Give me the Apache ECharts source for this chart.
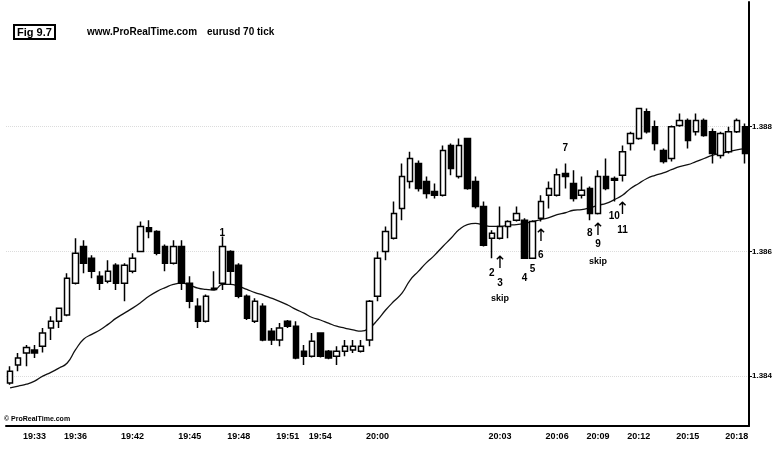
<!DOCTYPE html>
<html>
<head>
<meta charset="utf-8">
<script src="https://cdn.jsdelivr.net/npm/echarts@6/dist/echarts.min.js"></script>
<style>
  html, body { margin: 0; padding: 0; background: #fff; }
  #chart { width: 781px; height: 459px; }
</style>
</head>
<body>
<div id="chart"></div>
<script>
// eurusd 70 tick candles
var open = [1.38389, 1.38418, 1.38437, 1.38442, 1.38448, 1.38477, 1.38488, 1.38498, 1.38549, 1.38608,
    1.38589, 1.38560, 1.38552, 1.38578, 1.38549, 1.38568, 1.38600, 1.38638, 1.38632, 1.38608,
    1.38581, 1.38608, 1.38549, 1.38512, 1.38488, 1.38539, 1.38549, 1.38600, 1.38578, 1.38528,
    1.38488, 1.38512, 1.38472, 1.38458, 1.38488, 1.38480, 1.38440, 1.38432, 1.38469, 1.38440,
    1.38432, 1.38440, 1.38442, 1.38440, 1.38458, 1.38528, 1.38600, 1.38621, 1.38669, 1.38712,
    1.38741, 1.38712, 1.38696, 1.38690, 1.38770, 1.38720, 1.38781, 1.38712, 1.38672, 1.38621,
    1.38621, 1.38640, 1.38650, 1.38650, 1.38589, 1.38653, 1.38690, 1.38690, 1.38725, 1.38709,
    1.38690, 1.38701, 1.38661, 1.38720, 1.38717, 1.38722, 1.38773, 1.38781, 1.38824, 1.38800,
    1.38762, 1.38749, 1.38802, 1.38810, 1.38792, 1.38810, 1.38792, 1.38754, 1.38760, 1.38792,
    1.38800];
var close = [1.38408, 1.38429, 1.38446, 1.38437, 1.38469, 1.38488, 1.38509, 1.38557, 1.38597, 1.38581,
    1.38568, 1.38549, 1.38568, 1.38549, 1.38578, 1.38589, 1.38640, 1.38632, 1.38597, 1.38581,
    1.38608, 1.38549, 1.38520, 1.38488, 1.38528, 1.38541, 1.38608, 1.38568, 1.38528, 1.38493,
    1.38520, 1.38458, 1.38458, 1.38477, 1.38480, 1.38429, 1.38432, 1.38456, 1.38432, 1.38429,
    1.38440, 1.38448, 1.38448, 1.38448, 1.38520, 1.38589, 1.38632, 1.38661, 1.38720, 1.38749,
    1.38701, 1.38693, 1.38690, 1.38762, 1.38733, 1.38770, 1.38701, 1.38672, 1.38610, 1.38629,
    1.38640, 1.38648, 1.38661, 1.38589, 1.38648, 1.38680, 1.38701, 1.38723, 1.38720, 1.38685,
    1.38698, 1.38661, 1.38720, 1.38701, 1.38714, 1.38760, 1.38789, 1.38829, 1.38792, 1.38773,
    1.38744, 1.38800, 1.38810, 1.38778, 1.38810, 1.38786, 1.38757, 1.38789, 1.38792, 1.38810,
    1.38757];
var low = [1.38386, 1.38408, 1.38416, 1.38429, 1.38438, 1.38458, 1.38477, 1.38496, 1.38547, 1.38565,
    1.38557, 1.38538, 1.38549, 1.38538, 1.38520, 1.38565, 1.38600, 1.38621, 1.38594, 1.38568,
    1.38579, 1.38538, 1.38509, 1.38477, 1.38486, 1.38538, 1.38538, 1.38546, 1.38525, 1.38490,
    1.38485, 1.38456, 1.38450, 1.38448, 1.38477, 1.38427, 1.38418, 1.38430, 1.38430, 1.38427,
    1.38418, 1.38432, 1.38437, 1.38438, 1.38448, 1.38520, 1.38586, 1.38619, 1.38650, 1.38701,
    1.38696, 1.38685, 1.38685, 1.38688, 1.38722, 1.38717, 1.38699, 1.38669, 1.38608, 1.38589,
    1.38619, 1.38621, 1.38648, 1.38589, 1.38589, 1.38648, 1.38669, 1.38688, 1.38701, 1.38680,
    1.38685, 1.38650, 1.38659, 1.38698, 1.38680, 1.38712, 1.38762, 1.38779, 1.38789, 1.38762,
    1.38741, 1.38744, 1.38800, 1.38765, 1.38786, 1.38784, 1.38741, 1.38749, 1.38757, 1.38790,
    1.38741];
var high = [1.38416, 1.38437, 1.38450, 1.38450, 1.38477, 1.38496, 1.38510, 1.38565, 1.38621, 1.38618,
    1.38594, 1.38568, 1.38586, 1.38581, 1.38581, 1.38597, 1.38648, 1.38650, 1.38634, 1.38611,
    1.38618, 1.38618, 1.38560, 1.38525, 1.38531, 1.38568, 1.38624, 1.38602, 1.38581, 1.38531,
    1.38525, 1.38517, 1.38477, 1.38485, 1.38490, 1.38488, 1.38450, 1.38469, 1.38470, 1.38442,
    1.38448, 1.38458, 1.38458, 1.38458, 1.38522, 1.38600, 1.38640, 1.38680, 1.38741, 1.38760,
    1.38746, 1.38720, 1.38709, 1.38770, 1.38773, 1.38781, 1.38782, 1.38720, 1.38680, 1.38634,
    1.38672, 1.38650, 1.38672, 1.38653, 1.38650, 1.38690, 1.38712, 1.38733, 1.38741, 1.38730,
    1.38720, 1.38704, 1.38730, 1.38749, 1.38720, 1.38770, 1.38792, 1.38830, 1.38829, 1.38810,
    1.38765, 1.38802, 1.38821, 1.38813, 1.38821, 1.38813, 1.38797, 1.38792, 1.38800, 1.38813,
    1.38805];

// moving average line
var avg = [1.38381, 1.38384, 1.38387, 1.38392, 1.38400, 1.38406, 1.38413, 1.38421, 1.38442, 1.38459,
    1.38467, 1.38474, 1.38483, 1.38493, 1.38501, 1.38509, 1.38518, 1.38528, 1.38536, 1.38542,
    1.38547, 1.38549, 1.38546, 1.38541, 1.38539, 1.38538, 1.38547, 1.38547, 1.38544, 1.38539,
    1.38534, 1.38530, 1.38525, 1.38520, 1.38514, 1.38507, 1.38501, 1.38494, 1.38490, 1.38485,
    1.38480, 1.38477, 1.38474, 1.38472, 1.38477, 1.38490, 1.38506, 1.38520, 1.38533, 1.38554,
    1.38568, 1.38582, 1.38594, 1.38608, 1.38621, 1.38635, 1.38643, 1.38645, 1.38642, 1.38640,
    1.38640, 1.38642, 1.38643, 1.38645, 1.38648, 1.38651, 1.38654, 1.38659, 1.38662, 1.38666,
    1.38667, 1.38670, 1.38674, 1.38677, 1.38683, 1.38690, 1.38701, 1.38709, 1.38717, 1.38722,
    1.38726, 1.38731, 1.38736, 1.38739, 1.38744, 1.38749, 1.38754, 1.38757, 1.38760, 1.38763,
    1.38765];

// time labels on the tick axis
var tickIdx = [3, 8, 15, 22, 28, 34, 38, 45, 60, 67, 72, 77, 83, 89];
var tickText = ['19:33', '19:36', '19:42', '19:45', '19:48', '19:51', '19:54', '20:00',
    '20:03', '20:06', '20:09', '20:12', '20:15', '20:18'];
var priceTicks = [1.384, 1.386, 1.388];

// hand notes on the chart
var noteIdx = [26, 59, 60, 60, 60, 63, 64, 65, 65, 68, 71, 72, 72, 72, 74, 75, 75];
var notePrice = [1.38629, 1.38565, 1.38581, 1.38549, 1.38525, 1.38557, 1.38571, 1.38624, 1.38594,
    1.38765, 1.38629, 1.38634, 1.38611, 1.38584, 1.38656, 1.38667, 1.38634];
var noteText = ['1', '2', '↑', '3', 'skip', '4', '5', '↑', '6', '7', '8', '↑', '9', 'skip', '10', '↑', '11'];

var cats = open.map(function (v, i) { return String(i); });
var candles = open.map(function (v, i) { return [open[i], close[i], low[i], high[i]]; });
var tickMap = {};
tickIdx.forEach(function (k, j) { tickMap[k] = tickText[j]; });

var notes = noteIdx.map(function (k, j) {
    var arrow = noteText[j] === '↑';
    return {
        name: noteText[j],
        coord: [k, notePrice[j]],
        label: {
            fontSize: arrow ? 17 : (noteText[j] === 'skip' ? 9 : 10),
            fontFamily: arrow ? 'DejaVu Sans' : 'Liberation Sans',
            fontWeight: arrow ? 'normal' : 'bold'
        }
    };
});

var chart = echarts.init(document.getElementById('chart'), null, { renderer: 'canvas' });

var option = {
    backgroundColor: '#fff',
    animation: false,
    title: [
        {
            text: 'Fig 9.7',
            left: 14, top: 25,
            padding: [2, 3, 1, 3],
            borderColor: '#000', borderWidth: 2,
            textStyle: { fontSize: 11, fontWeight: 'bold', fontFamily: 'Liberation Sans', color: '#000' }
        },
        {
            text: 'www.ProRealTime.com',
            left: 87, top: 27,
            padding: 0,
            textStyle: { fontSize: 10, fontWeight: 'bold', fontFamily: 'Liberation Sans', color: '#000' }
        },
        {
            text: 'eurusd 70 tick',
            left: 207, top: 27,
            padding: 0,
            textStyle: { fontSize: 10, fontWeight: 'bold', fontFamily: 'Liberation Sans', color: '#000' }
        },
        {
            text: '© ProRealTime.com',
            left: 4, top: 416,
            padding: 0,
            textStyle: { fontSize: 7, fontWeight: 'bold', fontFamily: 'Liberation Sans', color: '#000' }
        }
    ],
    grid: { left: 6, right: 32, top: 2, bottom: 33 },
    xAxis: {
        type: 'category',
        data: cats,
        boundaryGap: true,
        axisLine: { lineStyle: { color: '#000', width: 2 } },
        axisTick: {
            alignWithLabel: true,
            length: 3,
            lineStyle: { color: '#000' },
            interval: function (i) { return tickMap[i] !== undefined; }
        },
        axisLabel: {
            interval: function (i) { return tickMap[i] !== undefined; },
            formatter: function (v, i) { return tickMap[i] || ''; },
            fontSize: 9, fontWeight: 'bold', fontFamily: 'Liberation Sans', color: '#000',
            margin: 6
        },
        splitLine: { show: false }
    },
    yAxis: {
        type: 'value',
        position: 'right',
        min: 1.3832,
        max: 1.3900,
        splitNumber: 3,
        scale: true,
        axisLine: { show: true, lineStyle: { color: '#000', width: 2 } },
        axisTick: { show: true, length: 3, lineStyle: { color: '#000' } },
        axisLabel: {
            margin: 3,
            fontSize: 8, fontWeight: 'bold', fontFamily: 'Liberation Sans', color: '#000',
            showMinLabel: false, showMaxLabel: false,
            formatter: function (v) {
                var hit = priceTicks.some(function (t) { return Math.abs(t - v) < 1e-7; });
                return hit ? v.toFixed(3) : '';
            }
        },
        splitLine: {
            show: true,
            showMinLine: false,
            showMaxLine: false,
            lineStyle: { color: '#dcdcdc', type: 'dotted', width: 1 }
        }
    },
    series: [
        {
            name: 'eurusd',
            type: 'candlestick',
            data: candles,
            barWidth: 6,
            itemStyle: {
                color: '#fff',
                color0: '#000',
                borderColor: '#000',
                borderColor0: '#000',
                borderWidth: 1.5
            },
            markPoint: {
                symbol: 'circle',
                symbolSize: 0,
                silent: true,
                label: {
                    show: true,
                    position: 'inside',
                    formatter: '{b}',
                    color: '#000'
                },
                data: notes
            }
        },
        {
            name: 'avg',
            type: 'line',
            data: avg,
            symbol: 'none',
            smooth: true,
            lineStyle: { color: '#111', width: 1.3 },
            z: 1
        }
    ]
};

chart.setOption(option);
</script>
</body>
</html>
